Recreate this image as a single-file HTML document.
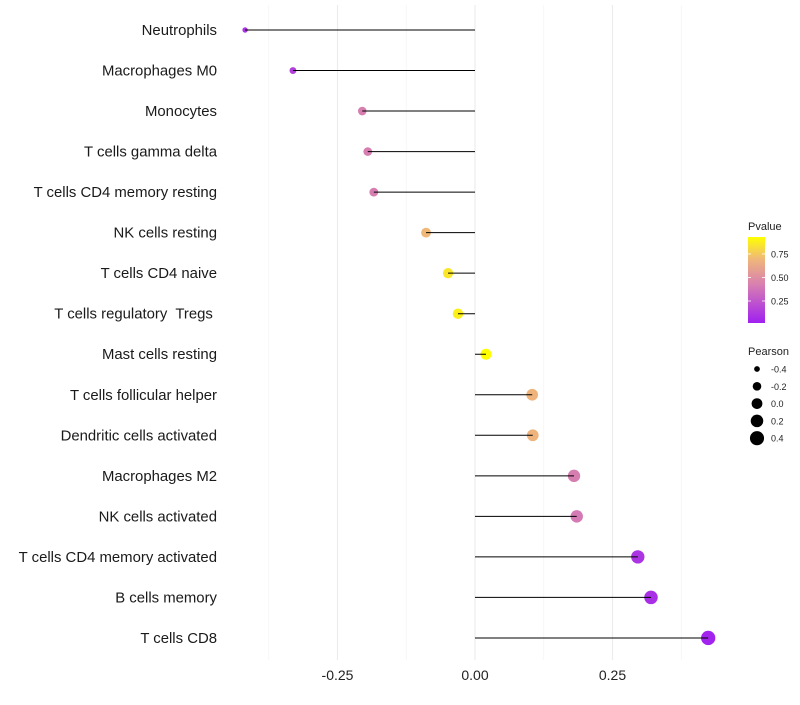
<!DOCTYPE html>
<html><head><meta charset="utf-8"><style>
body{margin:0;background:#fff;font-family:"Liberation Sans",sans-serif}
text{white-space:pre}
</style></head><body>
<svg id="c" width="800" height="700" xmlns="http://www.w3.org/2000/svg"></svg>
<script>
const categories=["Neutrophils","Macrophages M0","Monocytes","T cells gamma delta","T cells CD4 memory resting","NK cells resting","T cells CD4 naive","T cells regulatory  Tregs ","Mast cells resting","T cells follicular helper","Dendritic cells activated","Macrophages M2","NK cells activated","T cells CD4 memory activated","B cells memory","T cells CD8"];
const pearson=[-0.418,-0.331,-0.205,-0.195,-0.184,-0.089,-0.049,-0.031,0.020,0.104,0.105,0.180,0.185,0.296,0.320,0.424];
const pvalues=[0.10,0.15,0.42,0.42,0.42,0.70,0.85,0.88,0.93,0.68,0.68,0.42,0.40,0.10,0.08,0.03];
const xTicks=[-0.25,0,0.25];
const xTickLabels=["-0.25","0.00","0.25"];
const pTicks=[0.25,0.5,0.75];
const sizeLegend=[-0.4,-0.2,0,0.2,0.4];
const NS="http://www.w3.org/2000/svg";
const svg=document.getElementById('c');
const xs=v=>475+v*550;
const ys=i=>30+i*40.53;
const rs=v=>Math.sqrt(Math.max(3,29+52*v));
const pMin=0.016,pMax=0.93;
const stops=[[0,[160,32,240]],[0.45,[216,128,176]],[0.75,[240,184,120]],[1,[255,255,0]]];
function col(p){let t=Math.max(0,Math.min(1,(p-pMin)/(pMax-pMin)));
for(let k=1;k<stops.length;k++){if(t<=stops[k][0]){const a=stops[k-1],b=stops[k];const u=(t-a[0])/(b[0]-a[0]);
return `rgb(${a[1].map((c,j)=>Math.round(c+(b[1][j]-c)*u)).join(',')})`;}}
return 'rgb(255,255,0)';}
function el(tag,attrs,text){const e=document.createElementNS(NS,tag);for(const k in attrs)e.setAttribute(k,attrs[k]);if(text!==undefined)e.textContent=text;svg.appendChild(e);return e;}
[-0.375,-0.125,0.125,0.375].forEach(v=>{const g=el('line',{x1:xs(v),x2:xs(v),y1:5,y2:660,stroke:'#f2f2f2','stroke-width':0.6});

});
xTicks.forEach((v,i)=>{const g=el('line',{x1:xs(v),x2:xs(v),y1:5,y2:660,stroke:'#ebebeb','stroke-width':1.1});


const t=el('text',{x:xs(v),y:680,'text-anchor':'middle','font-size':14,fill:'#222'},xTickLabels[i]);

});
categories.forEach((c,i)=>{const y=ys(i);
const t=el('text',{x:217,y:y+5,'text-anchor':'end','font-size':14.9,fill:'#1a1a1a'},c);


const p=el('circle',{cx:xs(pearson[i]),cy:y,r:rs(pearson[i]),fill:col(pvalues[i])});


const l=el('line',{x1:xs(0),x2:xs(pearson[i]),y1:y,y2:y,stroke:'#000','stroke-width':1});

});
const defs=el('defs',{});
const lg=document.createElementNS(NS,'linearGradient');lg.setAttribute('id','gr');lg.setAttribute('x1',0);lg.setAttribute('y1',1);lg.setAttribute('x2',0);lg.setAttribute('y2',0);defs.appendChild(lg);
[0,0.15,0.3,0.45,0.6,0.75,0.9,1].forEach(o=>{const s=document.createElementNS(NS,'stop');s.setAttribute('offset',o);s.setAttribute('stop-color',col(pMin+o*(pMax-pMin)));lg.appendChild(s);});
const lt=el('text',{x:748,y:230,'font-size':11,fill:'#222'},'Pvalue');


const cb=el('rect',{x:748,y:237,width:17,height:86,fill:'url(#gr)'});


const py=p=>323-(p-pMin)/(pMax-pMin)*86;
pTicks.forEach(p=>{const y=py(p);
el('line',{x1:748,x2:751,y1:y,y2:y,stroke:'#fff','stroke-width':0.8});
el('line',{x1:762,x2:765,y1:y,y2:y,stroke:'#fff','stroke-width':0.8});
const t=el('text',{x:771,y:y+3.5,'font-size':9,fill:'#222'},p.toFixed(2));

});
const st=el('text',{x:748,y:355,'font-size':11,fill:'#222'},'Pearson');


sizeLegend.forEach((v,i)=>{const y=369+i*17.3;
const c=el('circle',{cx:757,cy:y,r:rs(v),fill:'#000'});


const t=el('text',{x:771,y:y+3.5,'font-size':9,fill:'#222'},v.toFixed(1));

});
</script>
</body></html>
